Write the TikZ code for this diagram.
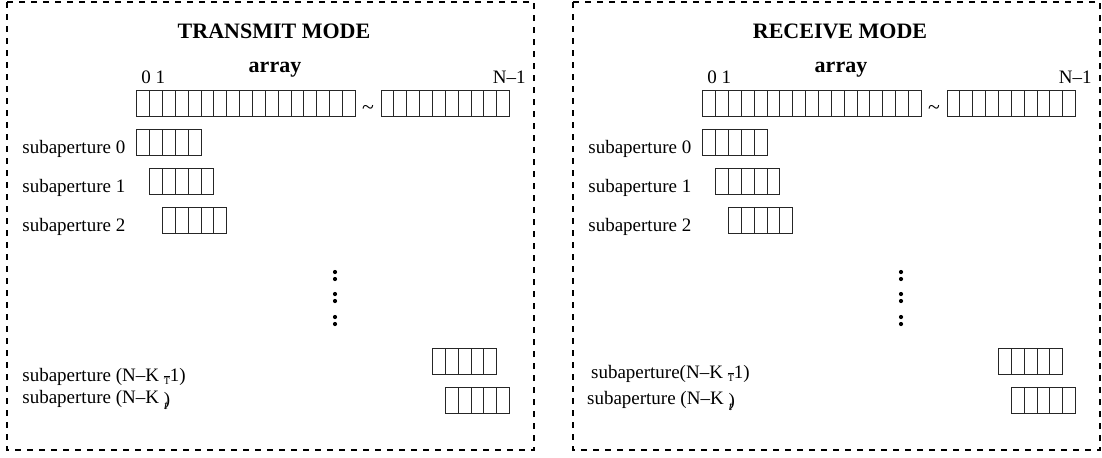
\documentclass[tikz,border=0pt]{standalone}
\usepackage{fontspec}
\setmainfont{Liberation Serif}
\usetikzlibrary{calc}
% garbled index glyphs as printed in the figure
\newcommand{\kbarT}{\makebox[0pt][l]{\raisebox{2.1pt}{\rule{3.2pt}{0.45pt}}}\raisebox{-1.6pt}{\fontsize{5}{5}\selectfont T}}
\newcommand{\kparT}{\makebox[0pt][l]{\raisebox{-1.2pt}{)}}\hspace{0.2pt}\raisebox{-3pt}{\fontsize{6.5}{6.5}\selectfont\itshape t}}

\begin{document}
\begin{tikzpicture}[x=0.5pt,y=-0.5pt,
 font=\fontsize{9.5}{11.5}\selectfont,
 frame/.style={draw=black,line width=0.75pt,dash pattern=on 3pt off 3pt},
 cellbox/.style={draw=black!85,line width=0.5pt},
 ttl/.style={font=\fontsize{11}{13}\selectfont\bfseries,inner sep=0pt,anchor=base},
 idx/.style={inner sep=0pt},
 lbl/.style={inner sep=0pt,anchor=base west},
 dotpt/.style={circle,fill=black,inner sep=0pt,minimum size=2.1pt}]
\useasboundingbox (0,0) rectangle (1102,457);
\foreach \dx/\mode [count=\p] in {0/TRANSMIT MODE,566/RECEIVE MODE}{
 \begin{scope}[shift={(\dx,0)}]
  \draw[frame] (7,2) rectangle (534,450);
  \node[ttl] (title\p) at (274,38) {\mode};
  \node[ttl] (array\p) at (275,72) {array};
  \node[idx,anchor=base west] (first\p) at (141,83) {0 1};
  \node[idx,anchor=base east] (last\p) at (526,83) {N–1};
  % full array, split by the gap
  \foreach \k in {0,...,16} \draw[cellbox] ({136.7+\k*12.86},90) rectangle ++(12.86,26);
  \node[idx,anchor=base,scale=1.15] (gap\p) at (368,114) {\textasciitilde};
  \foreach \k in {19,...,28} \draw[cellbox] ({136.7+\k*12.86},90) rectangle ++(12.86,26);
  % subapertures 0..2
  \foreach \s/\y in {0/129.3,1/168.7,2/207.3}{
   \foreach \k in {0,...,4} \draw[cellbox] ({136.7+(\s+\k)*12.86},\y) rectangle ++(12.86,26);
   \node[lbl] (sub\p\s) at (22,\y+24) {subaperture \s};
  }
  \foreach \y in {272,279,294,301,317,324} \node[dotpt] (dot\p-\y) at (335,\y) {};
  % last two subapertures
  \foreach \s/\y in {23/348,24/387}
   \foreach \k in {0,...,4} \draw[cellbox] ({136.7+(\s+\k)*12.86},\y) rectangle ++(12.86,26);
 \end{scope}
}
\node[lbl] (subTa) at (22,381) {subaperture (N–K \kbarT1)};
\node[lbl] (subTb) at (22,403) {subaperture (N–K \kparT};
\node[lbl] (subRa) at (590.7,378) {subaperture(N–K \kbarT1)};
\node[lbl] (subRb) at (586.7,404) {subaperture (N–K \kparT};
\end{tikzpicture}
\end{document}
